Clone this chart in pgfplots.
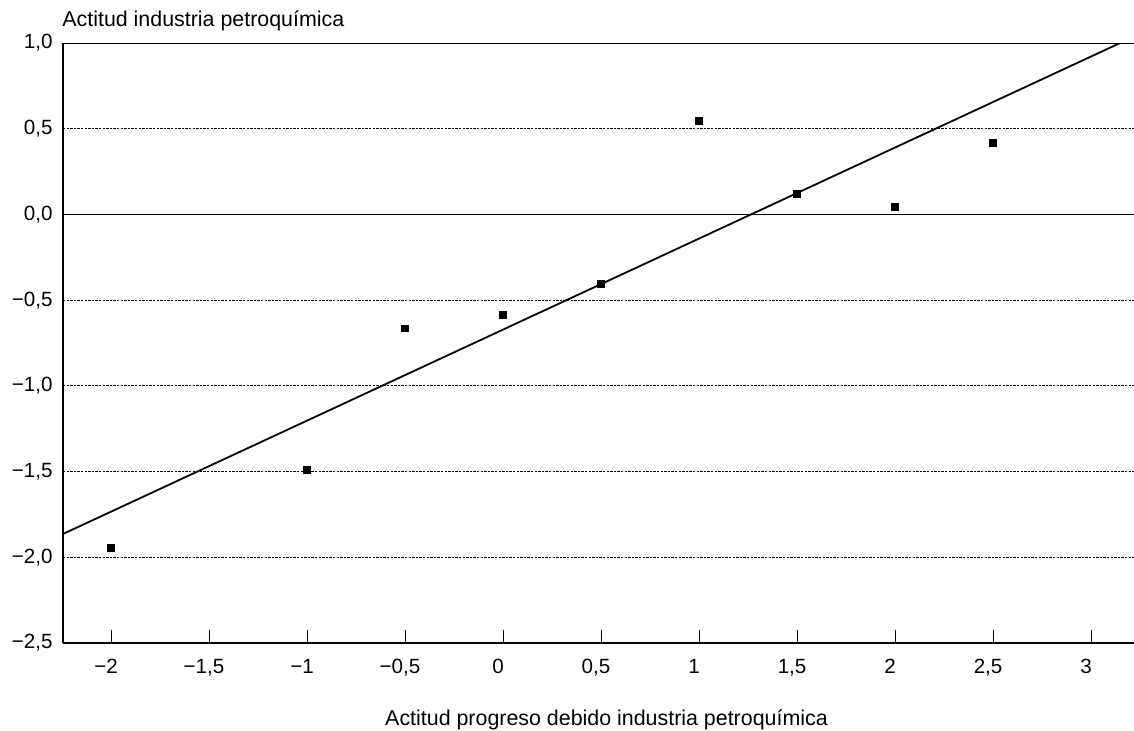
\documentclass[border=0pt]{standalone}
\usepackage{fontspec}
\setmainfont{Liberation Sans}
\usepackage{pgfplots}
\pgfplotsset{compat=1.18}
\begin{document}
\fontsize{10.7pt}{12pt}\selectfont
\begin{tikzpicture}
\begin{axis}[
  at={(0,0)}, anchor=south west,
  scale only axis,
  width=535.5pt, height=300pt,
  xmin=-2.245, xmax=3.219,
  ymin=-2.5, ymax=1.0,
  axis lines=left,
  axis line style={-, line width=0.8pt},
  xtick={-2,-1.5,-1,-0.5,0,0.5,1,1.5,2,2.5,3},
  xticklabels={{−2},{−1,5},{−1},{−0,5},{0},{0,5},{1},{1,5},{2},{2,5},{3}},
  ytick={-2.5,-2,-1.5,-1,-0.5,0,0.5,1},
  yticklabels={{−2,5},{−2,0},{−1,5},{−1,0},{−0,5},{0,0},{0,5},{1,0}},
  tick align=inside,
  x tick style={black, line width=0.5pt},
  xtick pos=bottom,
  major tick length=6.5pt,
  y tick style={draw=none},
  ymajorgrids,
  grid style={black, line width=0.4pt, dash pattern=on 1.2pt off 0.6pt},
  tick label style={font=\fontsize{10.3pt}{12pt}\selectfont},
  xticklabel style={yshift=-4.5pt, xshift=-2.5pt},
  yticklabel style={xshift=-1.5pt},
  clip=true,
]
\addplot[black, line width=0.7pt] coordinates {(-2.245,0) (3.219,0)};
\addplot[black, line width=0.9pt] coordinates {(-2.245,1.0) (3.219,1.0)};
\addplot[black, line width=0.9pt] coordinates {(-2.245,-1.864) (3.148,1.0)};
\addplot[only marks, mark=square*, mark size=1.7pt, black] coordinates {
  (-2,-1.946) (-1,-1.49) (-0.5,-0.665) (0,-0.586) (0.5,-0.405)
  (1,0.545) (1.5,0.12) (2,0.042) (2.5,0.419)
};
\end{axis}
\node[anchor=base west, inner sep=0] at (-0.5pt,308.5pt) {Actitud industria petroquímica};
\node[anchor=base, inner sep=0] at (271.75pt,-41pt) {Actitud progreso debido industria petroquímica};
\pgfresetboundingbox
\useasboundingbox (-31.5pt,-43.5pt) rectangle (535.5pt,321.5pt);
\end{tikzpicture}
\end{document}
